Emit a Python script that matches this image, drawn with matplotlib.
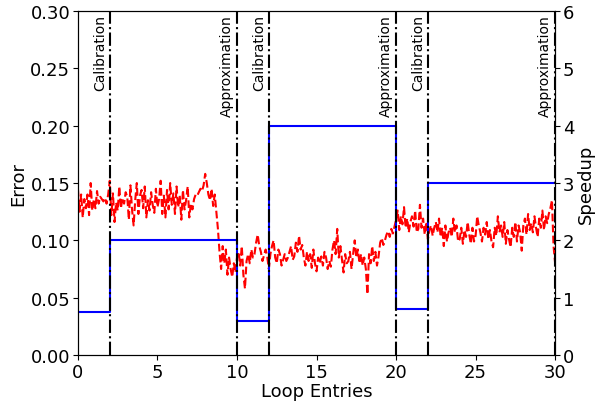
import numpy as np
import matplotlib
matplotlib.use('Agg')
import matplotlib.pyplot as plt

# error per loop entry, sampled every 0.1 entries
error = [
    0.145, 0.125, 0.140, 0.120, 0.136, 0.128, 0.140, 0.122, 0.150, 0.126,
    0.136, 0.128, 0.143, 0.132, 0.138, 0.136, 0.134, 0.137, 0.132, 0.140,
    0.152, 0.122, 0.141, 0.116, 0.133, 0.126, 0.147, 0.128, 0.137, 0.132,
    0.142, 0.138, 0.118, 0.148, 0.127, 0.113, 0.135, 0.150, 0.123, 0.139,
    0.144, 0.128, 0.147, 0.120, 0.135, 0.126, 0.142, 0.131, 0.124, 0.145,
    0.129, 0.136, 0.152, 0.123, 0.139, 0.120, 0.144, 0.127, 0.150, 0.131,
    0.141, 0.123, 0.147, 0.129, 0.139, 0.118, 0.144, 0.127, 0.135, 0.147,
    0.120, 0.132, 0.127, 0.136, 0.140, 0.139, 0.142, 0.145, 0.143, 0.148,
    0.158, 0.150, 0.140, 0.135, 0.145, 0.130, 0.140, 0.125, 0.110, 0.090,
    0.075, 0.095, 0.080, 0.092, 0.070, 0.085, 0.075, 0.068, 0.080, 0.072,
    0.085, 0.090, 0.078, 0.095, 0.070, 0.058, 0.082, 0.088, 0.080, 0.092,
    0.085, 0.088, 0.098, 0.105, 0.095, 0.090, 0.082, 0.087, 0.092, 0.086,
    0.075, 0.088, 0.095, 0.100, 0.085, 0.080, 0.092, 0.088, 0.078, 0.083,
    0.088, 0.082, 0.085, 0.090, 0.095, 0.083, 0.086, 0.098, 0.090, 0.104,
    0.092, 0.096, 0.085, 0.078, 0.090, 0.082, 0.088, 0.076, 0.092, 0.080,
    0.073, 0.085, 0.080, 0.086, 0.078, 0.090, 0.085, 0.075, 0.082, 0.077,
    0.092, 0.100, 0.088, 0.110, 0.085, 0.095, 0.083, 0.072, 0.088, 0.080,
    0.082, 0.090, 0.075, 0.088, 0.100, 0.085, 0.092, 0.080, 0.088, 0.078,
    0.085, 0.075, 0.053, 0.088, 0.080, 0.095, 0.082, 0.090, 0.078, 0.086,
    0.098, 0.102, 0.096, 0.100, 0.105, 0.108, 0.103, 0.110, 0.106, 0.112,
    0.118, 0.126, 0.109, 0.121, 0.114, 0.129, 0.111, 0.119, 0.107, 0.116,
    0.121, 0.112, 0.126, 0.107, 0.110, 0.131, 0.111, 0.119, 0.105, 0.116,
    0.101, 0.109, 0.113, 0.104, 0.111, 0.116, 0.107, 0.119, 0.103, 0.111,
    0.095, 0.113, 0.099, 0.107, 0.111, 0.103, 0.119, 0.107, 0.113, 0.099,
    0.101, 0.111, 0.097, 0.109, 0.103, 0.116, 0.105, 0.097, 0.111, 0.099,
    0.104, 0.121, 0.113, 0.107, 0.099, 0.111, 0.105, 0.116, 0.101, 0.109,
    0.099, 0.094, 0.111, 0.104, 0.121, 0.107, 0.113, 0.103, 0.116, 0.097,
    0.109, 0.101, 0.094, 0.111, 0.103, 0.116, 0.099, 0.113, 0.107, 0.091,
    0.113, 0.119, 0.105, 0.123, 0.109, 0.115, 0.107, 0.121, 0.111, 0.103,
    0.119, 0.111, 0.126, 0.109, 0.121, 0.115, 0.123, 0.128, 0.135, 0.095,
    0.080,
]
loop = np.arange(len(error)) * 0.1

# speedup per phase
phase_start = [0, 2, 10, 12, 20, 22, 30]
speedup = [0.75, 2.0, 0.6, 4.0, 0.8, 3.0, 3.0]

# phase boundaries and the phase that ends there
marks = [2, 10, 12, 20, 22, 30]
mark_names = ['Calibration', 'Approximation', 'Calibration',
              'Approximation', 'Calibration', 'Approximation']

plt.rcParams['font.size'] = 13

fig = plt.figure(figsize=(5.95, 4.02), dpi=100)
ax = fig.add_axes([0.131, 0.1144, 0.802, 0.8556])
ax2 = ax.twinx()

ax.plot(loop, error, '--', color='red', lw=1.5)
ax2.step(phase_start, speedup, where='post', color='blue', lw=1.5)

for m, name in zip(marks, mark_names):
    ax2.axvline(m, color='k', ls='-.', lw=1.5)
    ax.text(m - 0.18, 0.2975, name, rotation=90, ha='right', va='top', fontsize=10)

ax.set_xlim(0, 30)
ax.set_ylim(0, 0.30)
ax2.set_ylim(0, 6)
ax.set_yticks(np.arange(0, 0.31, 0.05))
ax.tick_params(pad=2)
ax2.tick_params(pad=2)
ax.set_xlabel('Loop Entries', labelpad=1)
ax.set_ylabel('Error', labelpad=2)
ax2.set_ylabel('Speedup', labelpad=2)

plt.savefig('out.png', dpi=100)
